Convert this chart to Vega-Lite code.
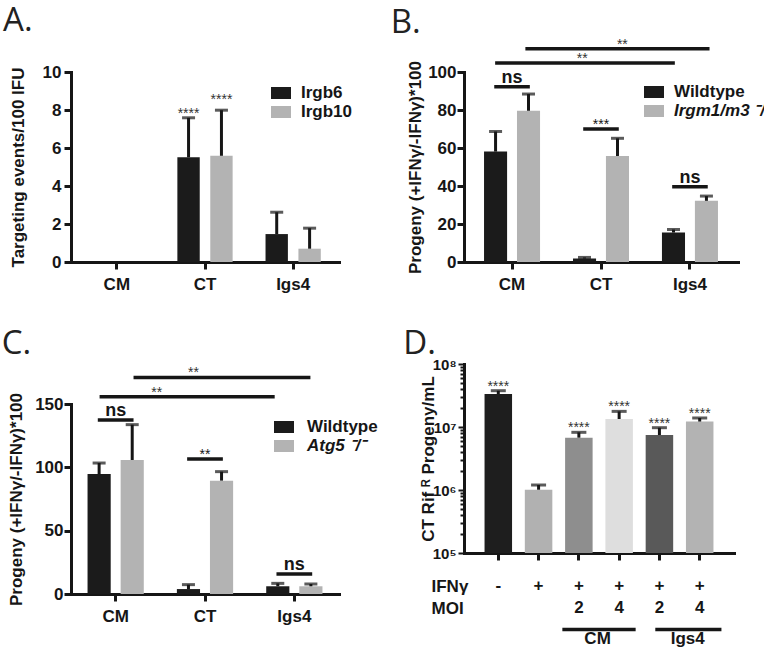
{
  "$schema": "https://vega.github.io/schema/vega-lite/v6.json",
  "background": "white",
  "padding": {"left": 1, "top": 5, "right": 0, "bottom": 0},
  "config": {
    "view": {"stroke": null},
    "font": "Liberation Sans",
    "axis": {"domainColor": "#161616", "domainWidth": 3, "domainCap": "square", "tickColor": "#161616", "tickWidth": 3, "tickSize": 7, "labelFont": "Liberation Sans", "labelFontWeight": "bold", "labelFontSize": 17, "labelColor": "#161616", "titleFont": "Liberation Sans", "titleFontWeight": "bold", "titleFontSize": 17, "titleColor": "#161616", "grid": false, "labelOverlap": false},
    "legend": {"labelFont": "Liberation Sans", "labelFontWeight": "bold", "labelFontSize": 17, "labelColor": "#161616", "symbolType": "M-1,-0.6L1,-0.6L1,0.6L-1,0.6Z", "symbolSize": 400, "symbolStrokeWidth": 0, "labelOffset": 10, "rowPadding": 1},
    "title": {"font": "Open Sans", "fontSize": 33, "fontWeight": "normal", "color": "#222222", "anchor": "start", "frame": "bounds", "baseline": "alphabetic"}
  },
  "datasets": {
    "A": [
      {"strain": "CM", "protein": "Irgb6", "value": 0, "upper": 0},
      {"strain": "CM", "protein": "Irgb10", "value": 0, "upper": 0},
      {"strain": "CT", "protein": "Irgb6", "value": 5.51, "upper": 7.59, "sig": "****", "sigY": 7.59},
      {"strain": "CT", "protein": "Irgb10", "value": 5.59, "upper": 7.99, "sig": "****", "sigY": 8.3},
      {"strain": "Igs4", "protein": "Irgb6", "value": 1.47, "upper": 2.62},
      {"strain": "Igs4", "protein": "Irgb10", "value": 0.7, "upper": 1.78}
    ],
    "B": [
      {"strain": "CM", "genotype": "Wildtype", "value": 58.1, "upper": 68.7},
      {"strain": "CM", "genotype": "Irgm1/m3 ⁻/⁻", "value": 79.6, "upper": 88.4},
      {"strain": "CT", "genotype": "Wildtype", "value": 1.8, "upper": 2.4},
      {"strain": "CT", "genotype": "Irgm1/m3 ⁻/⁻", "value": 55.8, "upper": 65.1},
      {"strain": "Igs4", "genotype": "Wildtype", "value": 15.5, "upper": 17.1},
      {"strain": "Igs4", "genotype": "Irgm1/m3 ⁻/⁻", "value": 32.2, "upper": 34.7}
    ],
    "Bbr": [
      {"kind": "long1", "from": "CM", "to": "Igs4", "at": "CT", "y": 112.2, "label": "**"},
      {"kind": "long2", "from": "CM", "to": "Igs4", "at": "CT", "y": 104.7, "label": "**"},
      {"kind": "pair", "from": "CM", "y": 92.3, "label": "ns"},
      {"kind": "pair", "from": "CT", "y": 70.0, "label": "***"},
      {"kind": "pair", "from": "Igs4", "y": 39.6, "label": "ns"}
    ],
    "C": [
      {"strain": "CM", "genotype": "Wildtype", "value": 94.7, "upper": 103.4},
      {"strain": "CM", "genotype": "Atg5 ⁻/⁻", "value": 105.8, "upper": 133.7},
      {"strain": "CT", "genotype": "Wildtype", "value": 3.9, "upper": 7.4},
      {"strain": "CT", "genotype": "Atg5 ⁻/⁻", "value": 89.5, "upper": 96.6},
      {"strain": "Igs4", "genotype": "Wildtype", "value": 6.1, "upper": 8.4},
      {"strain": "Igs4", "genotype": "Atg5 ⁻/⁻", "value": 6.1, "upper": 7.9}
    ],
    "Cbr": [
      {"kind": "long1", "from": "CM", "to": "Igs4", "at": "CT", "y": 171, "label": "**"},
      {"kind": "long2", "from": "CM", "to": "Igs4", "at": "CM", "y": 155.8, "label": "**"},
      {"kind": "pair", "from": "CM", "y": 137.4, "label": "ns"},
      {"kind": "pair", "from": "CT", "y": 106.6, "label": "**"},
      {"kind": "pair", "from": "Igs4", "y": 15.8, "label": "ns"}
    ],
    "D": [
      {"condition": "IFNγ−", "IFNγ": "-", "MOI": "", "value": 33400000, "upper": 37700000, "sig": "****"},
      {"condition": "IFNγ+", "IFNγ": "+", "MOI": "", "value": 1010000, "upper": 1200000, "sig": ""},
      {"condition": "CM MOI 2", "IFNγ": "+", "MOI": "2", "value": 6770000, "upper": 8230000, "sig": "****"},
      {"condition": "CM MOI 4", "IFNγ": "+", "MOI": "4", "value": 13400000, "upper": 17700000, "sig": "****"},
      {"condition": "Igs4 MOI 2", "IFNγ": "+", "MOI": "2", "value": 7460000, "upper": 9750000, "sig": "****"},
      {"condition": "Igs4 MOI 4", "IFNγ": "+", "MOI": "4", "value": 12200000, "upper": 13900000, "sig": "****"}
    ],
    "Dgrp": [
      {"from": "CM MOI 2", "to": "CM MOI 4", "label": "CM"},
      {"from": "Igs4 MOI 2", "to": "Igs4 MOI 4", "label": "Igs4"}
    ]
  },
  "resolve": {"scale": {"x": "independent", "y": "independent", "xOffset": "independent", "fill": "independent"}, "legend": {"fill": "independent"}},
  "spacing": -5,
  "hconcat": [
    {
      "resolve": {"scale": {"x": "independent", "y": "independent", "xOffset": "independent", "fill": "independent"}, "legend": {"fill": "independent"}},
      "spacing": 36,
      "vconcat": [
        {
          "width": 268, "height": 190,
          "title": {"text": "A.", "offset": 25, "dx": -6},
          "data": {"name": "A"},
          "layer": [
            {
              "mark": {"type": "bar"},
              "encoding": {
                "x": {"field": "strain", "type": "nominal", "scale": {"domain": ["CM", "CT", "Igs4"], "paddingInner": 0, "paddingOuter": 0.02}, "axis": {"title": null, "labelAngle": 0, "labelPadding": 7}},
                "xOffset": {"field": "protein", "type": "nominal", "scale": {"domain": ["Irgb6", "Irgb10"], "paddingInner": 0.32, "paddingOuter": 0.5}},
                "y": {"field": "value", "type": "quantitative", "scale": {"domain": [0, 10], "nice": false}, "axis": {"title": "Targeting events/100 IFU", "values": [0, 2, 4, 6, 8, 10], "format": "d", "tickCount": 20, "labelPadding": 3, "titlePadding": 15}},
                "fill": {"field": "protein", "type": "nominal", "scale": {"domain": ["Irgb6", "Irgb10"], "range": ["#1b1b1b", "#b3b3b3"]}, "legend": {"title": null, "orient": "none", "legendX": 200, "legendY": 11}}
              }
            },
            {
              "transform": [{"filter": "datum.upper > 0"}],
              "mark": {"type": "rule", "strokeWidth": 3, "color": "#161616"},
              "encoding": {
                "x": {"field": "strain", "type": "nominal"},
                "xOffset": {"field": "protein", "type": "nominal"},
                "y": {"field": "value", "type": "quantitative"},
                "y2": {"field": "upper"}
              }
            },
            {
              "transform": [{"filter": "datum.upper > 0"}],
              "mark": {"type": "tick", "size": 13, "thickness": 3, "color": "#161616"},
              "encoding": {
                "x": {"field": "strain", "type": "nominal"},
                "xOffset": {"field": "protein", "type": "nominal"},
                "y": {"field": "upper", "type": "quantitative"}
              }
            },
            {
              "transform": [{"filter": "datum.sig"}],
              "mark": {"type": "text", "fontSize": 14, "color": "#333333", "baseline": "alphabetic"},
              "encoding": {
                "x": {"field": "strain", "type": "nominal"},
                "xOffset": {"field": "protein", "type": "nominal"},
                "y": {"field": "sigY", "type": "quantitative"},
                "text": {"field": "sig"}
              }
            }
          ]
        },
        {
          "width": 268, "height": 190,
          "title": {"text": "C.", "offset": 5, "dx": -6},
          "data": {"name": "C"},
          "layer": [
            {
              "mark": {"type": "bar"},
              "encoding": {
                "x": {"field": "strain", "type": "nominal", "scale": {"domain": ["CM", "CT", "Igs4"], "paddingInner": 0, "paddingOuter": 0}, "axis": {"title": null, "labelAngle": 0, "labelPadding": 7}},
                "xOffset": {"field": "genotype", "type": "nominal", "scale": {"domain": ["Wildtype", "Atg5 ⁻/⁻"], "paddingInner": 0.3, "paddingOuter": 0.5}},
                "y": {"field": "value", "type": "quantitative", "scale": {"domain": [0, 150], "nice": false}, "axis": {"title": "Progeny (+IFNγ/-IFNγ)*100", "values": [0, 50, 100, 150], "tickCount": 20, "labelPadding": 1, "titlePadding": 9}},
                "fill": {"field": "genotype", "type": "nominal", "scale": {"domain": ["Wildtype", "Atg5 ⁻/⁻"], "range": ["#1b1b1b", "#b3b3b3"]}, "legend": {"title": null, "orient": "none", "legendX": 203, "legendY": 13, "labelOffset": 13, "labelFontStyle": {"expr": "datum.label == 'Wildtype' ? 'normal' : 'italic'"}}}
              }
            },
            {
              "mark": {"type": "rule", "strokeWidth": 3, "color": "#161616"},
              "encoding": {
                "x": {"field": "strain", "type": "nominal"},
                "xOffset": {"field": "genotype", "type": "nominal"},
                "y": {"field": "value", "type": "quantitative"},
                "y2": {"field": "upper"}
              }
            },
            {
              "mark": {"type": "tick", "size": 13, "thickness": 3, "color": "#161616"},
              "encoding": {
                "x": {"field": "strain", "type": "nominal"},
                "xOffset": {"field": "genotype", "type": "nominal"},
                "y": {"field": "upper", "type": "quantitative"}
              }
            },
            {
              "data": {"name": "Cbr"},
              "transform": [{"filter": "datum.kind == 'long1'"}],
              "mark": {"type": "rule", "strokeWidth": 3.5, "color": "#161616"},
              "encoding": {
                "x": {"field": "from", "type": "nominal", "bandPosition": 0.7},
                "x2": {"field": "to", "bandPosition": 0.68},
                "y": {"field": "y", "type": "quantitative"}
              }
            },
            {
              "data": {"name": "Cbr"},
              "transform": [{"filter": "datum.kind == 'long2'"}],
              "mark": {"type": "rule", "strokeWidth": 3.5, "color": "#161616"},
              "encoding": {
                "x": {"field": "from", "type": "nominal", "bandPosition": 0.32},
                "x2": {"field": "to", "bandPosition": 0.28},
                "y": {"field": "y", "type": "quantitative"}
              }
            },
            {
              "data": {"name": "Cbr"},
              "transform": [{"filter": "datum.kind == 'pair'"}],
              "mark": {"type": "rule", "strokeWidth": 3.5, "color": "#161616"},
              "encoding": {
                "x": {"field": "from", "type": "nominal", "bandPosition": 0.3},
                "x2": {"field": "from", "bandPosition": 0.7},
                "y": {"field": "y", "type": "quantitative"}
              }
            },
            {
              "data": {"name": "Cbr"},
              "transform": [{"filter": "datum.kind == 'pair'"}],
              "mark": {"type": "text", "baseline": "alphabetic", "color": "#161616", "fontSize": {"expr": "datum.label == 'ns' ? 18 : 14"}, "fontWeight": {"expr": "datum.label == 'ns' ? 'bold' : 'normal'"}, "dy": {"expr": "datum.label == 'ns' ? -4 : 0"}},
              "encoding": {
                "x": {"field": "from", "type": "nominal"},
                "y": {"field": "y", "type": "quantitative"},
                "text": {"field": "label"}
              }
            },
            {
              "data": {"name": "Cbr"},
              "transform": [{"filter": "datum.kind == 'long1'"}],
              "mark": {"type": "text", "baseline": "alphabetic", "color": "#333333", "fontSize": 14},
              "encoding": {
                "x": {"field": "at", "type": "nominal", "bandPosition": 0.37},
                "y": {"field": "y", "type": "quantitative"},
                "text": {"field": "label"}
              }
            },
            {
              "data": {"name": "Cbr"},
              "transform": [{"filter": "datum.kind == 'long2'"}],
              "mark": {"type": "text", "baseline": "alphabetic", "color": "#333333", "fontSize": 14},
              "encoding": {
                "x": {"field": "at", "type": "nominal", "bandPosition": 0.96},
                "y": {"field": "y", "type": "quantitative"},
                "text": {"field": "label"}
              }
            }
          ]
        }
      ]
    },
    {
      "resolve": {"scale": {"x": "independent", "y": "independent", "xOffset": "independent", "fill": "independent"}, "legend": {"fill": "independent"}},
      "spacing": 36,
      "align": "none",
      "vconcat": [
        {
          "width": 274, "height": 190,
          "title": {"text": "B.", "offset": -2, "dx": -16},
          "data": {"name": "B"},
          "layer": [
            {
              "mark": {"type": "bar"},
              "encoding": {
                "x": {"field": "strain", "type": "nominal", "scale": {"domain": ["CM", "CT", "Igs4"], "paddingInner": 0, "paddingOuter": 0.04}, "axis": {"title": null, "labelAngle": 0, "labelPadding": 7}},
                "xOffset": {"field": "genotype", "type": "nominal", "scale": {"domain": ["Wildtype", "Irgm1/m3 ⁻/⁻"], "paddingInner": 0.3, "paddingOuter": 0.5}},
                "y": {"field": "value", "type": "quantitative", "scale": {"domain": [0, 100], "nice": false}, "axis": {"title": "Progeny (+IFNγ/-IFNγ)*100", "values": [0, 20, 40, 60, 80, 100], "tickCount": 20, "labelPadding": 1, "titlePadding": 3}},
                "fill": {"field": "genotype", "type": "nominal", "scale": {"domain": ["Wildtype", "Irgm1/m3 ⁻/⁻"], "range": ["#1b1b1b", "#b3b3b3"]}, "legend": {"title": null, "orient": "none", "legendX": 180, "legendY": 10, "labelFontStyle": {"expr": "datum.label == 'Wildtype' ? 'normal' : 'italic'"}}}
              }
            },
            {
              "mark": {"type": "rule", "strokeWidth": 3, "color": "#161616"},
              "encoding": {
                "x": {"field": "strain", "type": "nominal"},
                "xOffset": {"field": "genotype", "type": "nominal"},
                "y": {"field": "value", "type": "quantitative"},
                "y2": {"field": "upper"}
              }
            },
            {
              "mark": {"type": "tick", "size": 13, "thickness": 3, "color": "#161616"},
              "encoding": {
                "x": {"field": "strain", "type": "nominal"},
                "xOffset": {"field": "genotype", "type": "nominal"},
                "y": {"field": "upper", "type": "quantitative"}
              }
            },
            {
              "data": {"name": "Bbr"},
              "transform": [{"filter": "datum.kind == 'long1'"}],
              "mark": {"type": "rule", "strokeWidth": 3.5, "color": "#161616"},
              "encoding": {
                "x": {"field": "from", "type": "nominal", "bandPosition": 0.65},
                "x2": {"field": "to", "bandPosition": 0.72},
                "y": {"field": "y", "type": "quantitative"}
              }
            },
            {
              "data": {"name": "Bbr"},
              "transform": [{"filter": "datum.kind == 'long2'"}],
              "mark": {"type": "rule", "strokeWidth": 3.5, "color": "#161616"},
              "encoding": {
                "x": {"field": "from", "type": "nominal", "bandPosition": 0.31},
                "x2": {"field": "to", "bandPosition": 0.33},
                "y": {"field": "y", "type": "quantitative"}
              }
            },
            {
              "data": {"name": "Bbr"},
              "transform": [{"filter": "datum.kind == 'pair'"}],
              "mark": {"type": "rule", "strokeWidth": 3.5, "color": "#161616"},
              "encoding": {
                "x": {"field": "from", "type": "nominal", "bandPosition": 0.3},
                "x2": {"field": "from", "bandPosition": 0.7},
                "y": {"field": "y", "type": "quantitative"}
              }
            },
            {
              "data": {"name": "Bbr"},
              "transform": [{"filter": "datum.kind == 'pair'"}],
              "mark": {"type": "text", "baseline": "alphabetic", "color": "#161616", "fontSize": {"expr": "datum.label == 'ns' ? 18 : 14"}, "fontWeight": {"expr": "datum.label == 'ns' ? 'bold' : 'normal'"}, "dy": {"expr": "datum.label == 'ns' ? -4 : 0"}},
              "encoding": {
                "x": {"field": "from", "type": "nominal"},
                "y": {"field": "y", "type": "quantitative"},
                "text": {"field": "label"}
              }
            },
            {
              "data": {"name": "Bbr"},
              "transform": [{"filter": "datum.kind == 'long1'"}],
              "mark": {"type": "text", "baseline": "alphabetic", "color": "#333333", "fontSize": 14},
              "encoding": {
                "x": {"field": "at", "type": "nominal", "bandPosition": 0.74},
                "y": {"field": "y", "type": "quantitative"},
                "text": {"field": "label"}
              }
            },
            {
              "data": {"name": "Bbr"},
              "transform": [{"filter": "datum.kind == 'long2'"}],
              "mark": {"type": "text", "baseline": "alphabetic", "color": "#333333", "fontSize": 14},
              "encoding": {
                "x": {"field": "at", "type": "nominal", "bandPosition": 0.29},
                "y": {"field": "y", "type": "quantitative"},
                "text": {"field": "label"}
              }
            }
          ]
        },
        {
          "resolve": {"scale": {"x": "independent", "y": "independent", "fill": "independent"}},
          "spacing": 15,
          "vconcat": [
            {
              "width": 270, "height": 189,
              "title": {"text": "D.", "offset": -4, "dx": -16},
              "data": {"name": "D"},
              "layer": [
                {
                  "mark": {"type": "bar"},
                  "encoding": {
                    "x": {"field": "condition", "type": "nominal", "sort": null, "scale": {"domain": ["IFNγ−", "IFNγ+", "CM MOI 2", "CM MOI 4", "Igs4 MOI 2", "Igs4 MOI 4"], "paddingInner": 0.317, "paddingOuter": 0.51}, "axis": {"title": null, "labels": false, "tickSize": 7}},
                    "y": {"field": "value", "type": "quantitative", "scale": {"type": "log", "domain": [100000, 100000000], "nice": false}, "axis": {"title": "CT Rif ᴿ Progeny/mL", "values": [100000, 200000, 300000, 400000, 500000, 600000, 700000, 800000, 900000, 1000000, 2000000, 3000000, 4000000, 5000000, 6000000, 7000000, 8000000, 9000000, 10000000, 20000000, 30000000, 40000000, 50000000, 60000000, 70000000, 80000000, 90000000, 100000000], "tickCount": 100, "labelExpr": "datum.value == 100000 ? '10⁵' : datum.value == 1000000 ? '10⁶' : datum.value == 10000000 ? '10⁷' : datum.value == 100000000 ? '10⁸' : ''", "tickSize": {"condition": {"test": "datum.value == 100000 || datum.value == 1000000 || datum.value == 10000000 || datum.value == 100000000", "value": 6}, "value": 4}, "tickWidth": 2, "labelPadding": 2, "labelFontSize": 15, "titlePadding": -5}},
                    "y2": {"datum": 100000},
                    "fill": {"field": "condition", "type": "nominal", "scale": {"domain": ["IFNγ−", "IFNγ+", "CM MOI 2", "CM MOI 4", "Igs4 MOI 2", "Igs4 MOI 4"], "range": ["#1e1e1e", "#b1b1b1", "#8e8e8e", "#dedede", "#595959", "#b3b3b3"]}, "legend": null}
                  }
                },
                {
                  "mark": {"type": "rule", "strokeWidth": 3, "color": "#161616"},
                  "encoding": {
                    "x": {"field": "condition", "type": "nominal"},
                    "y": {"field": "value", "type": "quantitative"},
                    "y2": {"field": "upper"}
                  }
                },
                {
                  "mark": {"type": "tick", "size": 15, "thickness": 3, "color": "#161616"},
                  "encoding": {
                    "x": {"field": "condition", "type": "nominal"},
                    "y": {"field": "upper", "type": "quantitative"}
                  }
                },
                {
                  "transform": [{"filter": "datum.sig"}],
                  "mark": {"type": "text", "fontSize": 14, "color": "#333333", "baseline": "alphabetic"},
                  "encoding": {
                    "x": {"field": "condition", "type": "nominal"},
                    "y": {"field": "upper", "type": "quantitative"},
                    "text": {"field": "sig"}
                  }
                }
              ]
            },
            {
              "width": 270, "height": 60,
              "data": {"name": "D"},
              "layer": [
                {
                  "transform": [{"fold": ["IFNγ", "MOI"], "as": ["row", "txt"]}, {"filter": "datum.txt != ''"}],
                  "mark": {"type": "text", "fontSize": 17, "fontWeight": "bold", "color": "#161616"},
                  "encoding": {
                    "x": {"field": "condition", "type": "nominal", "scale": {"domain": ["IFNγ−", "IFNγ+", "CM MOI 2", "CM MOI 4", "Igs4 MOI 2", "Igs4 MOI 4"], "paddingInner": 0.317, "paddingOuter": 0.51}, "axis": null},
                    "y": {"field": "row", "type": "nominal", "scale": {"type": "point", "domain": ["IFNγ", "MOI", "group"], "padding": 0.39}, "axis": {"title": null, "domain": false, "ticks": false, "tickSize": 0, "labelAlign": "left", "labelPadding": 33, "labelFontSize": 17, "minExtent": 91, "labelExpr": "datum.value == 'group' ? '' : datum.value"}},
                    "text": {"field": "txt"}
                  }
                },
                {
                  "data": {"name": "Dgrp"},
                  "transform": [{"filter": "datum.label == 'CM'"}],
                  "mark": {"type": "rule", "strokeWidth": 3.5, "color": "#161616"},
                  "encoding": {
                    "x": {"field": "from", "type": "nominal", "bandPosition": -0.1},
                    "x2": {"field": "to", "bandPosition": 1.1},
                    "y": {"datum": "group", "type": "nominal"}
                  }
                },
                {
                  "data": {"name": "Dgrp"},
                  "transform": [{"filter": "datum.label == 'Igs4'"}],
                  "mark": {"type": "rule", "strokeWidth": 3.5, "color": "#161616"},
                  "encoding": {
                    "x": {"field": "from", "type": "nominal", "bandPosition": 0.35},
                    "x2": {"field": "to", "bandPosition": 1.29},
                    "y": {"datum": "group", "type": "nominal"}
                  }
                },
                {
                  "data": {"name": "Dgrp"},
                  "transform": [{"filter": "datum.label == 'CM'"}],
                  "mark": {"type": "text", "fontSize": 17, "fontWeight": "bold", "color": "#161616", "baseline": "top", "dy": 1},
                  "encoding": {
                    "x": {"field": "from", "type": "nominal", "bandPosition": 1.18},
                    "y": {"datum": "group", "type": "nominal"},
                    "text": {"field": "label"}
                  }
                },
                {
                  "data": {"name": "Dgrp"},
                  "transform": [{"filter": "datum.label == 'Igs4'"}],
                  "mark": {"type": "text", "fontSize": 17, "fontWeight": "bold", "color": "#161616", "baseline": "top", "dy": 1},
                  "encoding": {
                    "x": {"field": "from", "type": "nominal", "bandPosition": 1.53},
                    "y": {"datum": "group", "type": "nominal"},
                    "text": {"field": "label"}
                  }
                }
              ]
            }
          ]
        }
      ]
    }
  ]
}
